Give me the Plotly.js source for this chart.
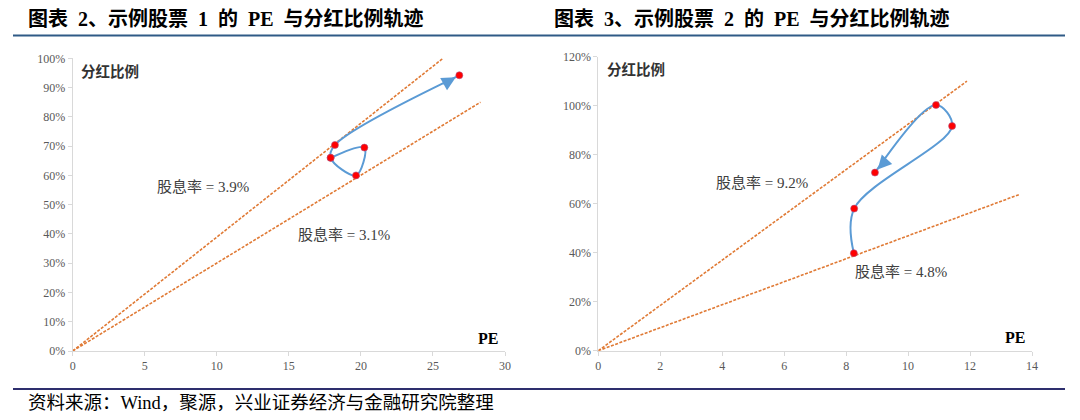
<!DOCTYPE html>
<html>
<head>
<meta charset="utf-8">
<script src="https://cdn.plot.ly/plotly-3.0.1.min.js"></script>
<style>
  html, body { margin: 0; padding: 0; background: #ffffff; }
  #chart { width: 1080px; height: 420px; }
</style>
</head>
<body>
<div id="chart"></div>
<script>
// ---------- data ----------
const title1 = "图表\u20022、示例股票\u20021\u2002的\u2002PE\u2002与分红比例轨迹";
const title2 = "图表\u20023、示例股票\u20022\u2002的\u2002PE\u2002与分红比例轨迹";
const sourceText = "资料来源：Wind，聚源，兴业证券经济与金融研究院整理";
const yLabel = "分红比例";
const xLabel = "PE";

// Stock 1 trajectory
const pe1 = [17.9, 20.24, 19.66, 17.9, 18.2, 26.83];
const payout1 = [0.66, 0.695, 0.60, 0.66, 0.704, 0.942];
// Stock 1 dividend-yield reference lines
const hiPE1 = [0, 25.7];
const hiPay1 = [0, 1.0];
const loPE1 = [0, 28.3];
const loPay1 = [0, 0.85];
const hiLabel1 = "股息率 = 3.9%";
const loLabel1 = "股息率 = 3.1%";

// Stock 2 trajectory
const pe2 = [8.25, 8.26, 11.42, 10.90, 8.93];
const payout2 = [0.398, 0.58, 0.917, 1.003, 0.727];
// Stock 2 dividend-yield reference lines
const hiPE2 = [0, 11.9];
const hiPay2 = [0, 1.1];
const loPE2 = [0, 13.6];
const loPay2 = [0, 0.638];
const hiLabel2 = "股息率 = 9.2%";
const loLabel2 = "股息率 = 4.8%";

// ---------- styling ----------
const serifCJK = '"Liberation Serif", "Times New Roman", "Noto Sans CJK SC", serif';
const lineBlue = '#5b9bd5';
const dashOrange = '#e07a35';
const axisGray = '#d9d9d9';
const tickFont = { family: serifCJK, size: 12, color: '#595959' };

function refLine(x, y, xa, ya) {
  return { x: x, y: y, xaxis: xa, yaxis: ya, mode: 'lines', type: 'scatter',
    line: { color: dashOrange, width: 1.6, dash: '3px,1.5px' }, hoverinfo: 'skip', showlegend: false };
}
function path(x, y, xa, ya) {
  return { x: x, y: y, xaxis: xa, yaxis: ya, mode: 'lines+markers', type: 'scatter',
    line: { color: lineBlue, width: 2, shape: 'spline', smoothing: 1 },
    marker: { color: '#ff0000', size: 7, line: { color: '#b05080', width: 0.6 } },
    showlegend: false };
}

const traces = [
  refLine(hiPE1, hiPay1, 'x', 'y'),
  refLine(loPE1, loPay1, 'x', 'y'),
  path(pe1, payout1, 'x', 'y'),
  refLine(hiPE2, hiPay2, 'x2', 'y2'),
  refLine(loPE2, loPay2, 'x2', 'y2'),
  path(pe2, payout2, 'x2', 'y2')
];

function axisX(domain, range, dtick, anchor) {
  return { domain: domain, range: range, dtick: dtick, tick0: 0, anchor: anchor,
    showgrid: false, zeroline: false, showline: true, linecolor: axisGray, linewidth: 1,
    ticks: 'outside', ticklen: 4, tickcolor: axisGray, tickfont: tickFont, fixedrange: true };
}
function axisY(domain, range, dtick, anchor) {
  return { domain: domain, range: range, dtick: dtick, tick0: 0, anchor: anchor,
    showgrid: false, zeroline: false, showline: true, linecolor: axisGray, linewidth: 1,
    ticks: 'outside', ticklen: 4, tickcolor: axisGray, tickfont: tickFont, tickformat: '.0%',
    fixedrange: true };
}

function arrowFor(xs, ys, xref, yref) {
  const n = xs.length;
  const f = 0.14;
  return { x: xs[n - 1], y: ys[n - 1], xref: xref, yref: yref,
    ax: xs[n - 1] + (xs[n - 2] - xs[n - 1]) * f,
    ay: ys[n - 1] + (ys[n - 2] - ys[n - 1]) * f,
    axref: xref, ayref: yref, showarrow: true, arrowhead: 2, arrowsize: 1.4,
    arrowwidth: 2, arrowcolor: lineBlue, standoff: 4, text: '' };
}

function textAnn(text, x, y, xref, yref, size, bold, color) {
  return { text: bold ? '<b>' + text + '</b>' : text, x: x, y: y, xref: xref, yref: yref,
    showarrow: false, font: { family: serifCJK, size: size, color: color } };
}

const annotations = [
  // titles
  { text: '<b>' + title1 + '</b>', x: 26 / 1080, y: 1 - 19 / 420, xref: 'paper', yref: 'paper',
    xanchor: 'left', yanchor: 'middle', showarrow: false,
    font: { family: serifCJK, size: 20, color: '#000000' } },
  { text: '<b>' + title2 + '</b>', x: 552 / 1080, y: 1 - 19 / 420, xref: 'paper', yref: 'paper',
    xanchor: 'left', yanchor: 'middle', showarrow: false,
    font: { family: serifCJK, size: 20, color: '#000000' } },
  // source
  { text: sourceText, x: 26 / 1080, y: 1 - 403 / 420, xref: 'paper', yref: 'paper',
    xanchor: 'left', yanchor: 'middle', showarrow: false,
    font: { family: serifCJK, size: 18.5, color: '#000000' } },
  // chart 1 labels
  textAnn(yLabel, 2.6, 0.955, 'x', 'y', 14.5, true, '#333333'),
  textAnn(xLabel, 28.8, 0.043, 'x', 'y', 16, true, '#000000'),
  textAnn(hiLabel1, 9.05, 0.561, 'x', 'y', 15, false, '#404040'),
  textAnn(loLabel1, 18.8, 0.396, 'x', 'y', 15, false, '#404040'),
  // chart 2 labels
  textAnn(yLabel, 1.22, 1.146, 'x2', 'y2', 14.5, true, '#333333'),
  textAnn(xLabel, 13.45, 0.053, 'x2', 'y2', 16, true, '#000000'),
  textAnn(hiLabel2, 5.27, 0.686, 'x2', 'y2', 15, false, '#404040'),
  textAnn(loLabel2, 9.76, 0.322, 'x2', 'y2', 15, false, '#404040'),
  // arrows
  arrowFor(pe1, payout1, 'x', 'y'),
  arrowFor(pe2, payout2, 'x2', 'y2')
];

const shapes = [
  { type: 'line', xref: 'paper', yref: 'paper', x0: 13 / 1080, x1: 1065 / 1080,
    y0: 1 - 35.5 / 420, y1: 1 - 35.5 / 420, line: { color: '#2f5a86', width: 2 } },
  { type: 'line', xref: 'paper', yref: 'paper', x0: 13 / 1080, x1: 1065 / 1080,
    y0: 1 - 389 / 420, y1: 1 - 389 / 420, line: { color: '#2e2f6e', width: 2 } }
];

const layout = {
  width: 1080, height: 420,
  margin: { l: 0, r: 0, t: 0, b: 0 },
  paper_bgcolor: '#ffffff', plot_bgcolor: '#ffffff',
  showlegend: false,
  xaxis: axisX([72.7 / 1080, 505 / 1080], [0, 30], 5, 'y'),
  yaxis: axisY([1 - 351 / 420, 1 - 58.3 / 420], [0, 1.0], 0.1, 'x'),
  xaxis2: axisX([598.3 / 1080, 1032 / 1080], [0, 14], 2, 'y2'),
  yaxis2: axisY([1 - 350.7 / 420, 1 - 56.7 / 420], [0, 1.2], 0.2, 'x2'),
  annotations: annotations,
  shapes: shapes
};

Plotly.newPlot('chart', traces, layout, { staticPlot: true, displayModeBar: false });
</script>
</body>
</html>
